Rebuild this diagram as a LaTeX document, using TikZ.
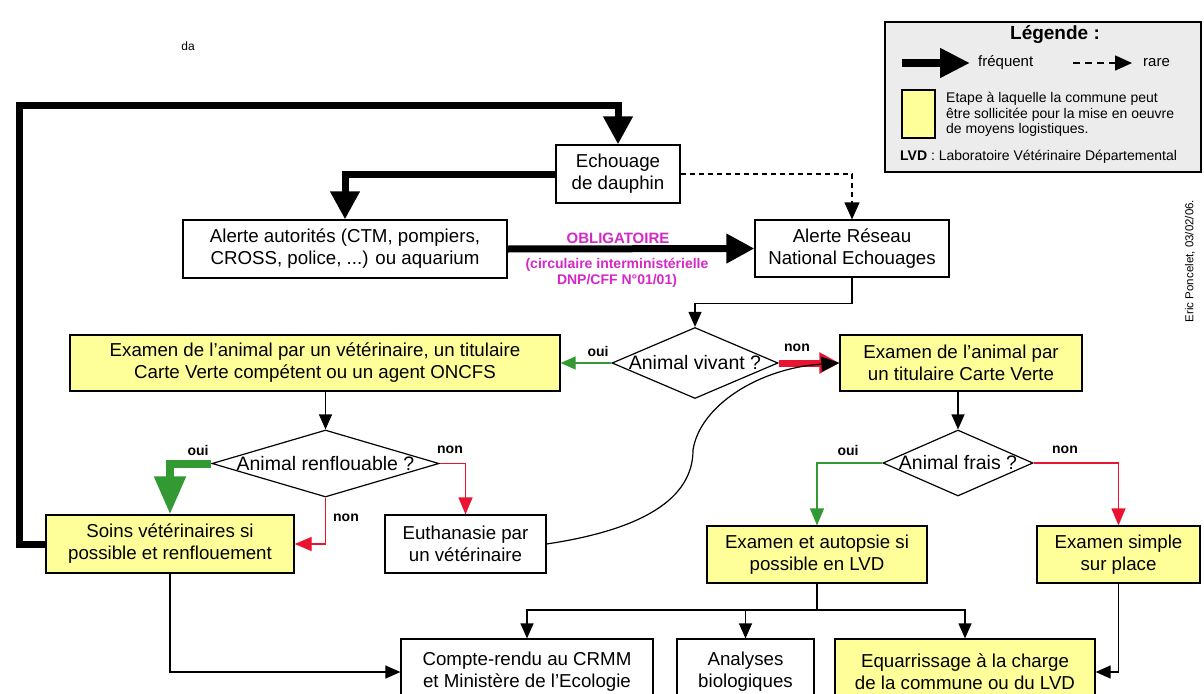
\documentclass[tikz,border=0pt]{standalone}
\usepackage{fontspec}
\setmainfont{Liberation Sans}
\usetikzlibrary{arrows.meta,shapes.geometric,calc}
\definecolor{boxyellow}{RGB}{255,255,153}
\definecolor{okgreen}{RGB}{51,153,51}
\definecolor{nored}{RGB}{232,20,50}
\definecolor{oblig}{RGB}{214,40,200}
\definecolor{leggray}{RGB}{236,236,236}
\begin{document}
\begin{tikzpicture}[x=1pt,y=-1pt,
  font=\fontsize{18.7}{22}\selectfont,
  box/.style={draw=black, line width=1.2pt, fill=white, align=center, inner sep=0pt},
  ybox/.style={box, fill=boxyellow},
  dia/.style={draw=black, line width=1.2pt, diamond, aspect=1, inner sep=0pt, fill=white, font=\fontsize{19.5}{22}\selectfont},
  conn/.style={line width=1.2pt, -{Triangle[length=15pt,width=13pt]}},
  bigarrow/.style={line width=7pt, line join=miter, -{Triangle[length=28pt,width=28pt]}},
  lab/.style={font=\fontsize{14}{16}\selectfont\bfseries, inner sep=0pt},
]
\path[use as bounding box] (0,0) rectangle (1204,693);
\clip (0,0) rectangle (1204,693);
\fill[white] (0,0) rectangle (1204,693);

% nodes
\node[box, minimum width=124pt, minimum height=58pt] (echo) at (618,174) {Echouage\\de dauphin};
\node[box, minimum width=324pt, minimum height=58pt] (alerteA) at (345,249) {Alerte autorités (CTM, pompiers,\\CROSS, police, ...) ou aquarium};
\node[box, minimum width=194pt, minimum height=57pt] (reseau) at (852,248.5) {Alerte Réseau\\National Echouages};
\node[dia, minimum width=166pt, minimum height=71pt] (viv) at (695,363) {\makebox[0pt]{Animal vivant ?}};
\node[ybox, minimum width=490pt, minimum height=56pt] (examV) at (315,363) {Examen de l’animal par un vétérinaire, un titulaire\\Carte Verte compétent ou un agent ONCFS};
\node[ybox, minimum width=242pt, minimum height=56pt] (examCV) at (961,363) {Examen de l’animal par\\un titulaire Carte Verte};
\node[dia, minimum width=227pt, minimum height=67pt] (renfl) at (325.5,463.5) {\makebox[0pt]{Animal renflouable ?}};
\node[ybox, minimum width=248pt, minimum height=58pt] (soins) at (170,544) {Soins vétérinaires si\\possible et renflouement};
\node[box, minimum width=161pt, minimum height=58pt] (euth) at (465.5,544) {Euthanasie par\\un vétérinaire};
\node[dia, minimum width=150pt, minimum height=66pt] (frais) at (958,463) {\makebox[0pt]{Animal frais ?}};
\node[ybox, minimum width=220pt, minimum height=57pt] (autop) at (817,554.5) {Examen et autopsie si\\possible en LVD};
\node[ybox, minimum width=163pt, minimum height=57pt] (simple) at (1118.5,554.5) {Examen simple\\sur place};
\node[box, minimum width=252pt, minimum height=66pt] (compte) at (527,672) {Compte-rendu au CRMM\\et Ministère de l’Ecologie};
\node[box, minimum width=137pt, minimum height=66pt] (analyses) at (745.5,672) {Analyses\\biologiques};
\node[ybox, minimum width=260pt, minimum height=66pt] (equ) at (965,672) {Equarrissage à la charge\\de la commune ou du LVD};

% connectors
\coordinate (loopA) at (19,544);
\coordinate (loopB) at (19,105);
\draw[bigarrow] (soins.west) -- (loopA) -- (loopB) -| (echo.north);
\draw[bigarrow] (echo.west) -| (alerteA.north);
\draw[bigarrow] (alerteA.east) -- (reseau.west);
\draw[line width=1.2pt, dash pattern=on 5pt off 4pt, -{Triangle[length=17pt,width=15pt]}] (echo.east) -| (reseau.north);
\draw[conn] (reseau.south) -- ++(0,26) -| (viv.north);
\draw[line width=1.2pt, okgreen, -{Triangle[length=15pt,width=13pt]}] (viv.west) -- (examV.east);
\draw[line width=7pt, nored, -{Triangle[length=20pt,width=20pt]}] (viv.east) -- (examCV.west);
\draw[line width=1.2pt, -{Triangle[length=18pt,width=15pt]}] (euth.east) .. controls (640,530) and (693,500) .. (693,450) .. controls (700,405) and (760,368) .. (examCV.west);
\draw[conn] (examCV.south -| frais.north) -- (frais.north);
\draw[conn] (examV.south -| renfl.north) -- (renfl.north);
\draw[line width=8pt, okgreen, line join=miter, -{Triangle[length=38pt,width=30pt]}] (renfl.west) -| (soins.north);
\draw[line width=1.2pt, nored, -{Triangle[length=17pt,width=14pt]}] (renfl.east) -| (euth.north);
\draw[line width=1.2pt, nored, -{Triangle[length=17pt,width=14pt]}] (renfl.south) |- (soins.east);
\draw[line width=1.2pt, okgreen, -{Triangle[length=17pt,width=14pt]}] (frais.west) -| (autop.north);
\draw[line width=1.2pt, nored, -{Triangle[length=17pt,width=14pt]}] (frais.east) -| (simple.north);
\coordinate (bus) at (817,610);
\draw[line width=1.2pt] (autop.south) -- (bus);
\draw[conn] (bus) -| (compte.north);
\draw[conn] (bus) -| (equ.north);
\draw[conn] (bus -| analyses.north) -- (analyses.north);
\draw[conn] (soins.south) |- (compte.west);
\draw[conn] (simple.south) |- (equ.east);

% labels
\node[lab] (l1) at (598,351) {oui};
\node[lab] (l2) at (797,348) {non};
\node[lab] (l3) at (198,450) {oui};
\node[lab] (l4) at (450,450) {non};
\node[lab] (l5) at (346,518) {non};
\node[lab] (l6) at (848,450) {oui};
\node[lab] (l7) at (1065,450) {non};
\node[font=\fontsize{15}{17}\selectfont\bfseries, text=oblig, inner sep=0pt] (ob1) at (618,238) {OBLIGATOIRE};
\node[font=\fontsize{14}{15.5}\selectfont\bfseries, text=oblig, align=center, inner sep=0pt] (ob2) at (617,273) {(circulaire interministérielle\\DNP/CFF N°01/01)};

% legend
\node[draw=black, line width=1.2pt, fill=leggray, minimum width=316pt, minimum height=150pt, inner sep=0pt] (leg) at (1043,97) {};
\node[font=\fontsize{19}{22}\selectfont\bfseries, inner sep=0pt] (legt) at (1055,35) {Légende :};
\coordinate (la1) at (902,63);
\coordinate (la2) at (970,63);
\draw[line width=8pt, -{Triangle[length=30pt,width=28pt]}] (la1) -- (la2);
\node[font=\fontsize{15}{17}\selectfont, anchor=west, inner sep=0pt] (lf) at (978,63) {fréquent};
\coordinate (lb1) at (1073,63);
\coordinate (lb2) at (1132,63);
\draw[line width=1.5pt, dash pattern=on 7pt off 5pt, -{Triangle[length=17pt,width=15pt]}] (lb1) -- (lb2);
\node[font=\fontsize{15}{17}\selectfont, anchor=west, inner sep=0pt] (lr) at (1143,63) {rare};
\node[draw=black, line width=1.2pt, fill=boxyellow, minimum width=33pt, minimum height=48pt, inner sep=0pt] (lsq) at (918.5,114) {};
\node[anchor=west, align=left, inner sep=0pt, font=\fontsize{14}{15.5}\selectfont] (ltext) at (946,114.5) {Etape à laquelle la commune peut\\être sollicitée pour la mise en oeuvre\\de moyens logistiques.};
\node[anchor=west, inner sep=0pt, font=\fontsize{14}{16}\selectfont] (llvd) at (900,157) {\textbf{LVD} : Laboratoire Vétérinaire Départemental};

% misc
\node[rotate=90, inner sep=0pt, font=\fontsize{11.5}{13}\selectfont] (sig) at (1190,261) {Eric Poncelet, 03/02/06.};
\node[inner sep=0pt, font=\fontsize{12}{14}\selectfont] (da) at (188,46) {da};
\end{tikzpicture}
\end{document}
